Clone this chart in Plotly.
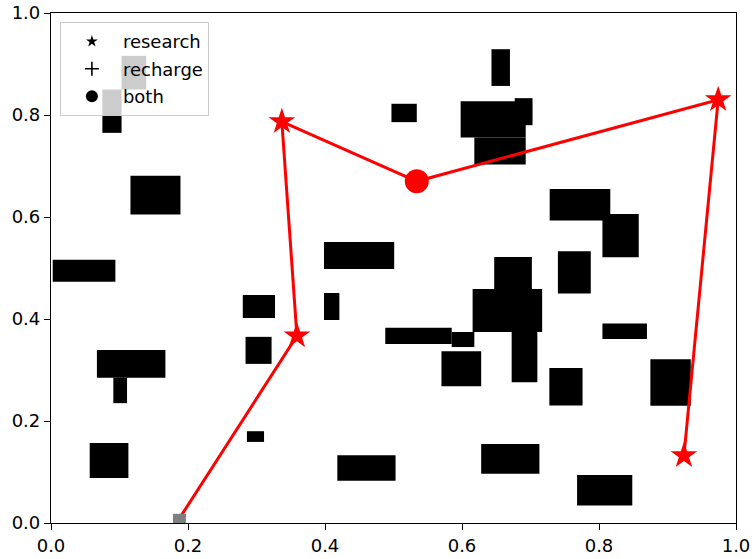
import plotly.graph_objects as go

# obstacle rectangles (data coordinates)
obs_x0 = [0.075, 0.103, 0.116, 0.0025, 0.280, 0.284, 0.067, 0.091, 0.0565, 0.286,
          0.643, 0.497, 0.598, 0.677, 0.618, 0.728, 0.805, 0.740, 0.805, 0.875,
          0.647, 0.6155, 0.6725, 0.7275, 0.3985, 0.3985, 0.488, 0.585, 0.570,
          0.418, 0.628, 0.768]
obs_x1 = [0.103, 0.139, 0.189, 0.094, 0.327, 0.322, 0.167, 0.111, 0.113, 0.311,
          0.670, 0.534, 0.693, 0.703, 0.693, 0.8165, 0.858, 0.788, 0.870, 0.934,
          0.702, 0.717, 0.710, 0.776, 0.501, 0.421, 0.585, 0.618, 0.628,
          0.503, 0.713, 0.8486]
obs_y0 = [0.765, 0.850, 0.605, 0.473, 0.402, 0.312, 0.285, 0.235, 0.088, 0.159,
          0.857, 0.786, 0.756, 0.780, 0.703, 0.593, 0.521, 0.450, 0.361, 0.230,
          0.459, 0.3745, 0.276, 0.2305, 0.498, 0.398, 0.351, 0.345, 0.268,
          0.083, 0.0967, 0.0345]
obs_y1 = [0.850, 0.916, 0.681, 0.516, 0.447, 0.365, 0.339, 0.285, 0.157, 0.180,
          0.929, 0.822, 0.827, 0.833, 0.756, 0.655, 0.606, 0.533, 0.391, 0.321,
          0.5216, 0.459, 0.3745, 0.304, 0.551, 0.451, 0.383, 0.3745, 0.337,
          0.133, 0.155, 0.094]

# start cell
start_x0, start_x1, start_y0, start_y1 = 0.178, 0.197, 0.0, 0.018

# path
path_x = [0.1875, 0.359, 0.337, 0.534, 0.974, 0.924]
path_y = [0.009, 0.367, 0.787, 0.670, 0.830, 0.132]
path_kind = ["start", "research", "research", "both", "research", "research"]

tick_vals = [0.0, 0.2, 0.4, 0.6, 0.8, 1.0]
tick_text = ["0.0", "0.2", "0.4", "0.6", "0.8", "1.0"]

fig = go.Figure()

shapes = []
for a, b, c, d in zip(obs_x0, obs_x1, obs_y0, obs_y1):
    shapes.append(dict(type="rect", xref="x", yref="y", x0=a, x1=b, y0=c, y1=d,
                       fillcolor="black", line=dict(width=0), layer="below"))
shapes.append(dict(type="rect", xref="x", yref="y", x0=start_x0, x1=start_x1,
                   y0=start_y0, y1=start_y1, fillcolor="#808080",
                   line=dict(width=0), layer="above"))

fig.add_trace(go.Scatter(x=path_x, y=path_y, mode="lines",
                         line=dict(color="#ff0000", width=3),
                         showlegend=False, hoverinfo="skip"))

sx = [x for x, k in zip(path_x, path_kind) if k == "research"]
sy = [y for y, k in zip(path_y, path_kind) if k == "research"]
fig.add_trace(go.Scatter(x=sx, y=sy, mode="markers",
                         marker=dict(symbol="star", size=20, color="#ff0000",
                                     line=dict(width=0)),
                         showlegend=False))
bx = [x for x, k in zip(path_x, path_kind) if k == "both"]
by = [y for y, k in zip(path_y, path_kind) if k == "both"]
fig.add_trace(go.Scatter(x=bx, y=by, mode="markers",
                         marker=dict(symbol="circle", size=24, color="#ff0000",
                                     line=dict(width=0)),
                         showlegend=False))

# legend entries
legend_names = ["research", "recharge", "both"]
legend_symbols = ["star", "cross-thin", "circle"]
legend_sizes = [9, 10, 12]
legend_lw = [0, 1.6, 0]
for n, s, z, w in zip(legend_names, legend_symbols, legend_sizes, legend_lw):
    fig.add_trace(go.Scatter(x=[None], y=[None], mode="markers", name=n,
                             legendgroup=n,
                             marker=dict(symbol=s, size=z, color="black",
                                         line=dict(width=w, color="black"))))

axis_common = dict(range=[0, 1], showgrid=False, zeroline=False, showline=True,
                   linecolor="black", linewidth=1.2, mirror=True, ticks="outside",
                   ticklen=6, tickwidth=1.2, tickcolor="black",
                   tickvals=tick_vals, ticktext=tick_text, automargin=False,
                   tickfont=dict(family="DejaVu Sans", size=18, color="black"))

fig.update_layout(
    width=752, height=559,
    margin=dict(l=51, r=16, t=13, b=36, autoexpand=False),
    plot_bgcolor="white", paper_bgcolor="white",
    shapes=shapes,
    xaxis=axis_common,
    yaxis=axis_common,
    legend=dict(x=0.013, y=0.982, xanchor="left", yanchor="top",
                bgcolor="rgba(255,255,255,0.8)", bordercolor="#cccccc",
                borderwidth=1, itemwidth=52, tracegroupgap=1,
                traceorder="grouped",
                font=dict(family="DejaVu Sans", size=18, color="black")),
)

fig.write_html("out.html", config={"displayModeBar": False},
               post_script="document.body.style.margin='0';document.body.style.overflow='hidden';")
